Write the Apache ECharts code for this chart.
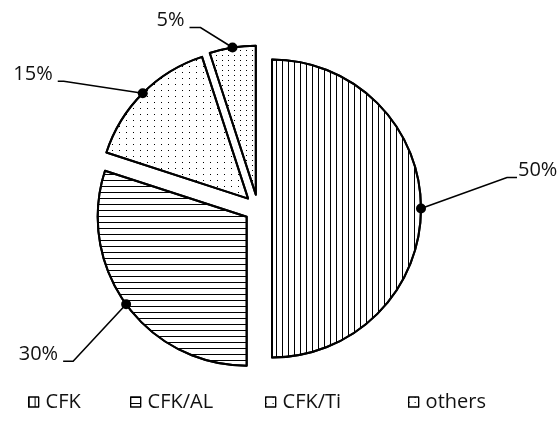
<!DOCTYPE html>
<html>
<head>
<meta charset="utf-8">
<script src="https://cdn.jsdelivr.net/npm/echarts@6/dist/echarts.min.js"></script>
<style>
  html, body { margin: 0; padding: 0; background: #fff; }
  #chart { width: 560px; height: 425px; }
</style>
</head>
<body>
<div id="chart"></div>
<script>
// Material share (%)
const categories = ['CFK', 'CFK/AL', 'CFK/Ti', 'others'];
const shares = [50, 30, 15, 5];

// Black-and-white fill patterns, one per category
const patterns = [
  { symbol: 'rect', symbolSize: 1, color: '#000', dashArrayX: [1, 5], dashArrayY: [1, 0] },
  { symbol: 'rect', symbolSize: 1, color: '#000', dashArrayX: [1, 0], dashArrayY: [1, 5] },
  { symbol: 'rect', symbolSize: 1, color: '#000', dashArrayX: [1, 6], dashArrayY: [1, 5] },
  { symbol: 'rect', symbolSize: 1, color: '#000', dashArrayX: [1, 5], dashArrayY: [1, 4] }
];

// Leader line shape: elbow offset from the arc point, then a short horizontal run
const leaders = [
  { elbow: [86, -31], run: 10 },
  { elbow: [-53, 57], run: -10 },
  { elbow: [-79, -12], run: -6 },
  { elbow: [-32, -20], run: -11 }
];
const legendLeft = [28, 130, 265, 408];

const PIE_CENTER = [258, 208.5];
const PIE_RADIUS = 149;
const EXPLODE = 14;
const FONT = "'Open Sans', sans-serif";
const INK = '#111';

const chart = echarts.init(document.getElementById('chart'), null, { renderer: 'canvas' });

// Mid angle of each slice (clockwise from 12 o'clock), used to push slices apart
const total = shares.reduce((a, b) => a + b, 0);
let acc = 0;
const midAngles = shares.map(v => {
  const m = (acc + v / 2) / total * Math.PI * 2;
  acc += v;
  return m;
});

const dotPoints = [];

function layoutFor(i) {
  return function (params) {
    const pts = params.labelLinePoints;
    if (!pts || params.dataIndex !== i) return {};
    const p0 = pts[0];
    const L = leaders[i];
    const p1 = [p0[0] + L.elbow[0], p0[1] + L.elbow[1]];
    const p2 = [p1[0] + L.run, p1[1]];
    dotPoints[i] = p0;
    const right = L.run > 0;
    return {
      x: p2[0] + (right ? 1 : -5),
      y: p2[1] - 7,
      align: right ? 'left' : 'right',
      verticalAlign: 'middle',
      labelLinePoints: [p0, p1, p2]
    };
  };
}

// One pie per slice so each slice can sit on its own offset centre
const series = categories.map((name, i) => {
  const m = midAngles[i];
  return {
    type: 'pie',
    silent: true,
    animation: false,
    center: [PIE_CENTER[0] + EXPLODE * Math.sin(m), PIE_CENTER[1] - EXPLODE * Math.cos(m)],
    radius: PIE_RADIUS,
    startAngle: 90,
    clockwise: true,
    avoidLabelOverlap: false,
    emphasis: { disabled: true },
    label: {
      show: true,
      position: 'outside',
      formatter: '{c}%',
      fontFamily: FONT,
      fontSize: 20,
      color: INK
    },
    labelLine: {
      show: true,
      length: 10,
      length2: 10,
      lineStyle: { color: '#000', width: 1.6 }
    },
    labelLayout: layoutFor(i),
    data: shares.map((v, j) => j === i
      ? {
          name: categories[j],
          value: v,
          itemStyle: { color: '#fff', borderColor: '#000', borderWidth: 2, decal: patterns[j] }
        }
      : {
          name: '',
          value: v,
          itemStyle: { color: 'rgba(0,0,0,0)', borderWidth: 0 },
          label: { show: false },
          labelLine: { show: false }
        })
  };
});

const legend = categories.map((name, i) => ({
  data: [name],
  left: legendLeft[i],
  top: 392,
  padding: 0,
  icon: 'rect',
  itemWidth: 10,
  itemHeight: 10,
  selectedMode: false,
  itemStyle: { borderColor: '#000', borderWidth: 1.2 },
  textStyle: { fontFamily: FONT, fontSize: 20, color: INK, padding: [0, 0, 0, 2] }
}));

chart.setOption({
  animation: false,
  backgroundColor: '#fff',
  legend: legend,
  series: series
});

// Black dots where the leader lines meet the slices
chart.setOption({
  graphic: dotPoints.map(p => ({
    type: 'circle',
    z: 100,
    silent: true,
    shape: { cx: p[0], cy: p[1], r: 5 },
    style: { fill: '#000' }
  }))
});
</script>
</body>
</html>
